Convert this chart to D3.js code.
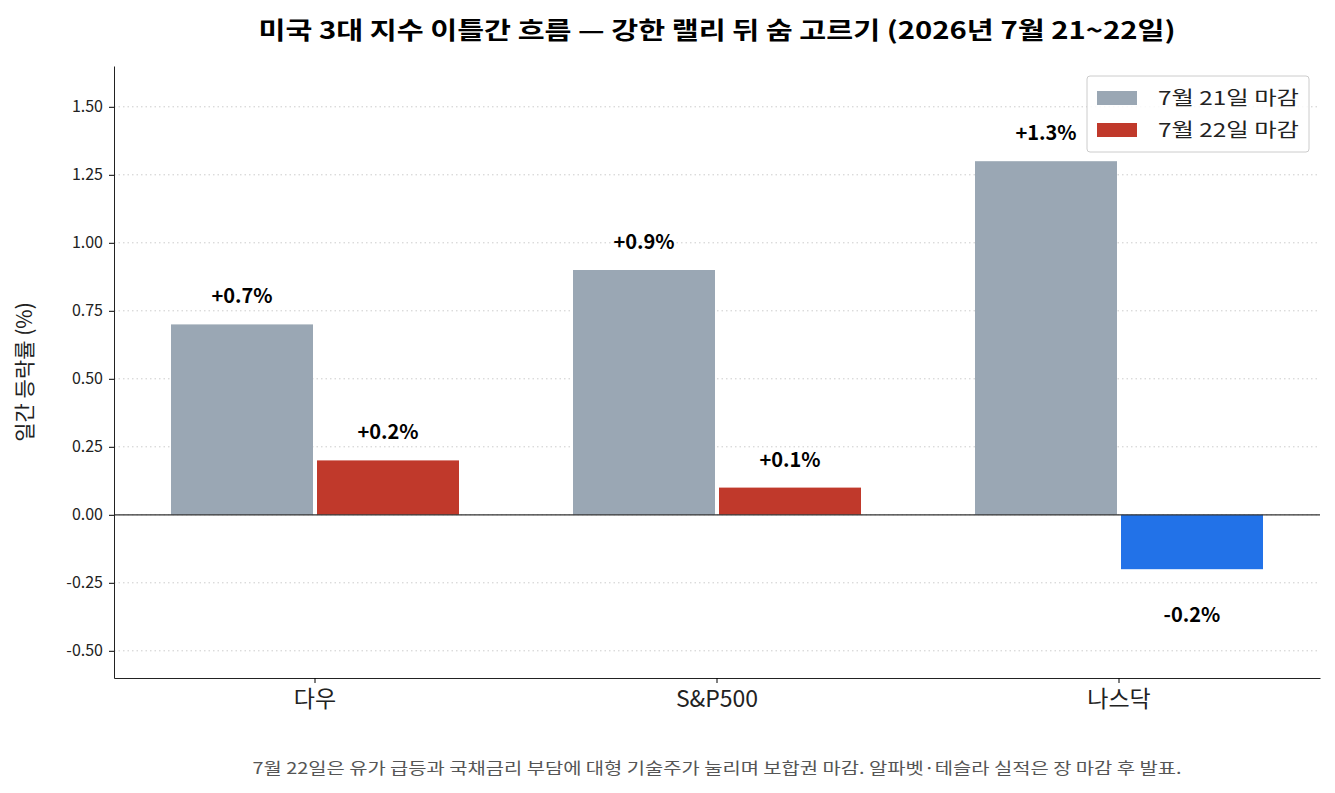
<!DOCTYPE html>
<html>
<head>
<meta charset="utf-8">
<script src="https://cdn.jsdelivr.net/npm/d3@7"></script>
<style>
  body { margin:0; background:#fff; font-family:"Noto Sans CJK KR","Noto Sans",sans-serif; }
  text { font-family:"Noto Sans CJK KR","Noto Sans",sans-serif; }
</style>
</head>
<body>
<svg id="chart" width="1335" height="793"></svg>
<script>
const categories = ['다우', 'S&P500', '나스닥'];
const seriesNames = ['7월 21일 마감', '7월 22일 마감'];
const day21 = [0.7, 0.9, 1.3];
const day22 = [0.2, 0.1, -0.2];
const yTicks = [-0.5, -0.25, 0, 0.25, 0.5, 0.75, 1.0, 1.25, 1.5];

const svg = d3.select('#chart');
const m = {left:114, right:1320, top:66, bottom:678};

const y = d3.scaleLinear().domain([-0.6, 1.65]).range([m.bottom, m.top]);
const x = d3.scaleBand().domain(categories).range([m.left, m.right]).padding(0);
const barW = 142, gap = 2;

// grid
svg.append('g').selectAll('line').data(yTicks).join('line')
  .attr('x1', m.left).attr('x2', m.right)
  .attr('y1', d => y(d)).attr('y2', d => y(d))
  .attr('stroke', '#ccc').attr('stroke-dasharray', '1.5,3');

// bars
const cx = c => x(c) + x.bandwidth() / 2;
const bars = [];
categories.forEach((c, i) => {
  bars.push({c, v: day21[i], x0: cx(c) - gap - barW, fill: '#9aa7b4'});
  bars.push({c, v: day22[i], x0: cx(c) + gap, fill: day22[i] < 0 ? '#2272e8' : '#c0392b'});
});
svg.append('g').selectAll('rect').data(bars).join('rect')
  .attr('x', d => d.x0).attr('width', barW)
  .attr('y', d => y(Math.max(0, d.v)))
  .attr('height', d => Math.abs(y(d.v) - y(0)))
  .attr('fill', d => d.fill);

svg.append('g').selectAll('text').data(bars).join('text')
  .attr('x', d => d.x0 + barW / 2)
  .attr('y', d => d.v >= 0 ? y(d.v) - 21 : y(d.v) + 53)
  .attr('text-anchor', 'middle').attr('font-size', 20).attr('font-weight', 'bold')
  .text(d => (d.v >= 0 ? '+' : '') + d.v.toFixed(1) + '%');

// zero line
svg.append('line').attr('x1', m.left).attr('x2', m.right)
  .attr('y1', y(0)).attr('y2', y(0)).attr('stroke', '#333').attr('stroke-width', 1.2);

// axes
const ya = svg.append('g').attr('transform', `translate(${m.left},0)`)
  .call(d3.axisLeft(y).tickValues(yTicks).tickFormat(d => d3.format('.2f')(d).replace('−', '-'))
    .tickSize(5).tickSizeOuter(0).tickPadding(6));
ya.selectAll('text').attr('font-size', 16).attr('fill', '#222');
ya.select('.domain').attr('stroke', '#222');
const xa = svg.append('g').attr('transform', `translate(0,${m.bottom})`)
  .call(d3.axisBottom(x).tickSize(5).tickSizeOuter(0).tickPadding(8));
xa.selectAll('text').attr('font-size', 23).attr('fill', '#222');
xa.select('.domain').attr('stroke', '#222');

// title
svg.append('text').attr('x', 717).attr('y', 39).attr('text-anchor', 'middle')
  .attr('font-size', 24).attr('font-weight', 'bold')
  .attr('textLength', 917).attr('lengthAdjust', 'spacingAndGlyphs')
  .text('미국 3대 지수 이틀간 흐름 — 강한 랠리 뒤 숨 고르기 (2026년 7월 21~22일)');

// y label
svg.append('text').attr('transform', 'translate(32,372) rotate(-90)')
  .attr('text-anchor', 'middle').attr('font-size', 21).attr('fill', '#222')
  .text('일간 등락률 (%)');

// footnote
svg.append('text').attr('x', 717).attr('y', 774).attr('text-anchor', 'middle')
  .attr('font-size', 16).attr('fill', '#555')
  .attr('textLength', 929).attr('lengthAdjust', 'spacingAndGlyphs')
  .text('7월 22일은 유가 급등과 국채금리 부담에 대형 기술주가 눌리며 보합권 마감. 알파벳·테슬라 실적은 장 마감 후 발표.');

// legend
const lg = svg.append('g').attr('transform', 'translate(1087,76)');
lg.append('rect').attr('width', 222).attr('height', 76).attr('rx', 3)
  .attr('fill', 'rgba(255,255,255,0.85)').attr('stroke', '#ccc');
seriesNames.forEach((s, i) => {
  lg.append('rect').attr('x', 10).attr('y', 15 + i * 32).attr('width', 40).attr('height', 14)
    .attr('fill', i === 0 ? '#9aa7b4' : '#c0392b');
  lg.append('text').attr('x', 71).attr('y', 29 + i * 32).attr('font-size', 19).attr('fill', '#222')
    .attr('textLength', 141).attr('lengthAdjust', 'spacingAndGlyphs').text(s);
});
</script>
</body>
</html>
